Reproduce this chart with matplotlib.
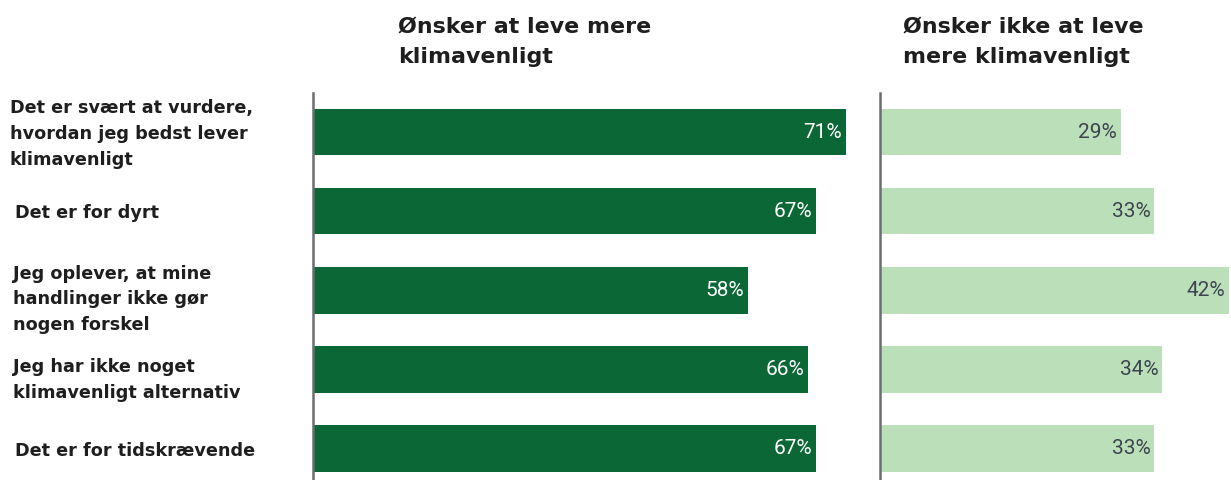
import matplotlib
matplotlib.use("Agg")
import matplotlib.pyplot as plt
from matplotlib.transforms import blended_transform_factory, offset_copy

categories = [
    "Det er svært at vurdere,\nhvordan jeg bedst lever\nklimavenligt",
    "Det er for dyrt",
    "Jeg oplever, at mine\nhandlinger ikke gør\nnogen forskel",
    "Jeg har ikke noget\nklimavenligt alternativ",
    "Det er for tidskrævende",
]
want_more = [71, 67, 58, 66, 67]
not_want = [29, 33, 42, 34, 33]
title_left = "Ønsker at leve mere\nklimavenligt"
title_right = "Ønsker ikke at leve\nmere klimavenligt"

W, H = 1231, 480
fig = plt.figure(figsize=(W / 100, H / 100), dpi=100)

dark = "#0b6836"
light = "#badfb9"
axis_col = "#6b6e70"
txt_dark = "#1e1e1e"
val_dark = "#3d4450"

def px_axes(x0, x1, y0, y1):
    return fig.add_axes([x0 / W, 1 - y1 / H, (x1 - x0) / W, (y1 - y0) / H])

axL = px_axes(313, 850, 93, 480)
axR = px_axes(880, 1231, 93, 480)

n = len(categories)
ys = list(range(n))
for ax, vals, col, tcol, xmax in [
    (axL, want_more, dark, "white", 71.6),
    (axR, not_want, light, val_dark, 42.3),
]:
    ax.barh(ys, vals, height=0.59, color=col, left=0)
    ax.set_xlim(0, xmax)
    ax.set_ylim(n - 0.6, -0.494)
    for s in ["top", "right", "bottom"]:
        ax.spines[s].set_visible(False)
    ax.spines["left"].set_color(axis_col)
    ax.spines["left"].set_linewidth(1.8)
    ax.set_xticks([])
    ax.set_yticks([])
    ax.patch.set_alpha(0)
    for y, v in zip(ys, vals):
        ax.annotate(f"{v}%", xy=(v, y), xytext=(-2.5, 0), textcoords="offset points",
                    ha="right", va="center", color=tcol, fontsize=15,
                    family="Roboto")

tr = blended_transform_factory(fig.transFigure, axL.transData)
nudges = [2, 2, 9, 11, 3]
xpos = [10, 15, 13, 13, 15]
for y, lab, dy, xp in zip(ys, categories, nudges, xpos):
    t = offset_copy(tr, fig=fig, x=0, y=-dy * 0.72, units="points")
    fig.text(xp / W, y, lab, transform=t, ha="left", va="center",
             fontsize=12.7, fontweight="bold", color=txt_dark,
             family="DejaVu Sans", linespacing=1.55)

for x0, title in [(398, title_left), (903, title_right)]:
    fig.text(x0 / W, 1 - 17 / H, title, ha="left", va="top", fontsize=15.9,
             fontweight="bold", color=txt_dark, family="DejaVu Sans",
             linespacing=1.65)

fig.savefig("out.png", dpi=100, facecolor="white")
